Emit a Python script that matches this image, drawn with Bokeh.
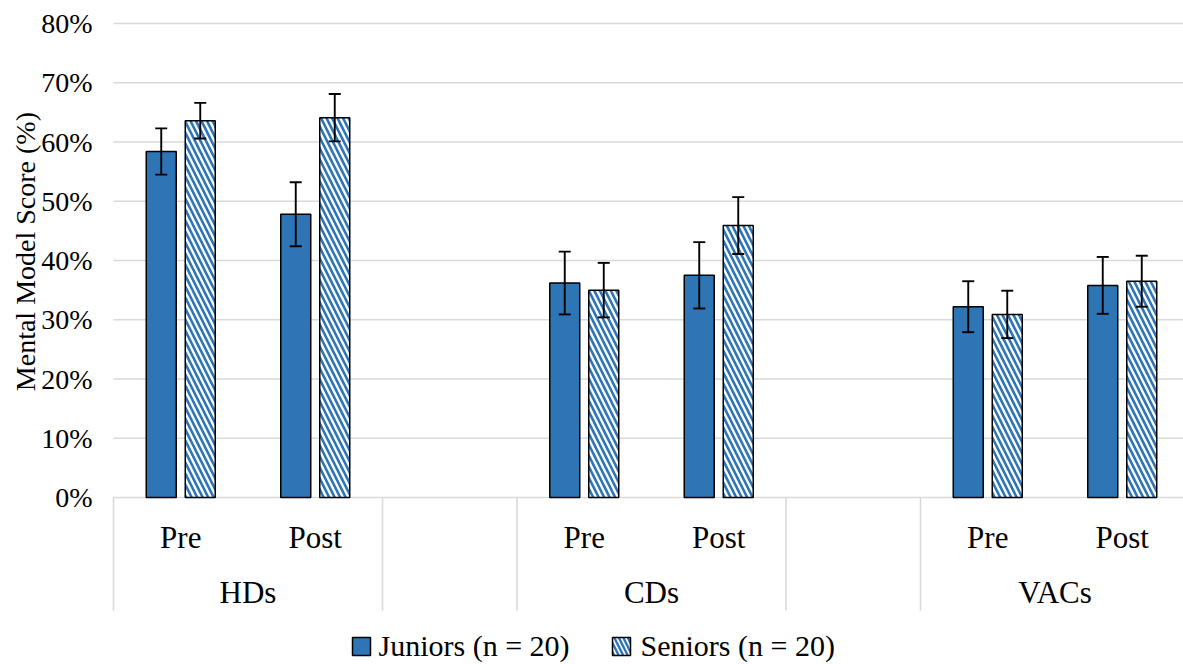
import numpy as np
from bokeh.plotting import figure
from bokeh.models import ColumnDataSource, Whisker, TeeHead, Range1d
from bokeh.core.properties import value
from bokeh.embed import file_html
from bokeh.resources import INLINE

# ---------------- data ----------------
groups = ["HDs", "CDs", "VACs"]
phases = ["Pre", "Post"]
series_names = ["Juniors (n = 20)", "Seniors (n = 20)"]
juniors = [58.4, 47.8, 36.2, 37.5, 32.2, 35.8]
juniors_err = [3.9, 5.4, 5.3, 5.6, 4.3, 4.8]
seniors = [63.6, 64.1, 35.0, 45.9, 30.9, 36.5]
seniors_err = [3.0, 4.0, 4.6, 4.8, 4.0, 4.3]
y_ticks = [0, 10, 20, 30, 40, 50, 60, 70, 80]
y_title = "Mental Model Score (%)"

# ---------------- styling / layout ----------------
BLUE = "#2E75B6"
GRID = "#D9D9D9"
FONT = value("Liberation Serif")
W, H = 1183, 664
PX = 474 / 0.8            # pixels per y unit (fraction)
SLOT = 134.5              # pixels per category slot
ORIGIN_X, ORIGIN_Y = 113, 497   # where (0, 0) sits on the canvas

x_start = -ORIGIN_X / SLOT
x_end = (W - ORIGIN_X) / SLOT
y_top = ORIGIN_Y / PX
y_bot = y_top - H / PX

def px_x(v):   # canvas pixel -> data x
    return (v - ORIGIN_X) / SLOT

def px_y(v):   # canvas pixel -> data y
    return (ORIGIN_Y - v) / PX

# slot layout: each group has 2 slots (Pre, Post) then an empty slot
centers, phase_lbl, group_centers, seps = [], [], [], set()
for gi, g in enumerate(groups):
    start = gi * 3
    for pi, ph in enumerate(phases):
        centers.append(start + pi + 0.5)
        phase_lbl.append(ph)
    group_centers.append(start + len(phases) / 2)
    seps.add(start)
    seps.add(start + len(phases))
    if gi < len(groups) - 1:
        seps.add(start + len(phases) + 1)
seps = sorted(seps)

off = 0.145
bw = 0.223
centers = np.array(centers)

src_j = ColumnDataSource(dict(
    x=centers - off,
    top=np.array(juniors) / 100,
    upper=(np.array(juniors) + np.array(juniors_err)) / 100,
    lower=(np.array(juniors) - np.array(juniors_err)) / 100,
))
src_s = ColumnDataSource(dict(
    x=centers + off,
    top=np.array(seniors) / 100,
    upper=(np.array(seniors) + np.array(seniors_err)) / 100,
    lower=(np.array(seniors) - np.array(seniors_err)) / 100,
))

p = figure(width=W, height=H, output_backend="svg", toolbar_location=None,
           x_range=Range1d(x_start, x_end), y_range=Range1d(y_bot, y_top),
           x_axis_location=None, y_axis_location=None, min_border=0,
           outline_line_color=None)
p.grid.visible = False

tick_vals = [t / 100 for t in y_ticks]

# horizontal gridlines (value axis)
p.segment(x0=[0] * len(tick_vals), x1=[x_end + 1] * len(tick_vals),
          y0=tick_vals, y1=tick_vals, line_color=GRID, line_width=1.6)

# value-axis tick labels
p.text(x=[px_x(ORIGIN_X - 21)] * len(tick_vals), y=tick_vals,
       text=[f"{t}%" for t in y_ticks], text_font=FONT,
       text_font_size=value("28px"), text_color="black",
       text_align="right", text_baseline="middle")

# value-axis title
p.text(x=[px_x(25)], y=[0.415], text=[y_title], angle=np.pi / 2,
       text_font=FONT, text_font_size=value("28px"), text_color="black",
       text_align="center", text_baseline="middle")

# separators of the category axis
p.segment(x0=seps, y0=[0] * len(seps), x1=seps, y1=[px_y(610)] * len(seps),
          line_color=GRID, line_width=1.6)

r_j = p.vbar(x="x", top="top", bottom=0, width=bw, source=src_j,
             fill_color=BLUE, line_color="black", line_width=1.5)
r_s = p.vbar(x="x", top="top", bottom=0, width=bw, source=src_s,
             fill_color="white", line_color="black", line_width=1.5,
             hatch_pattern="left_diagonal_line", hatch_color=BLUE,
             hatch_scale=11, hatch_weight=2.6)

for src in (src_j, src_s):
    p.add_layout(Whisker(source=src, base="x", upper="upper", lower="lower",
                         dimension="height", line_color="black", line_width=1.9,
                         level="overlay",
                         upper_head=TeeHead(size=12, line_width=1.9, line_color="black"),
                         lower_head=TeeHead(size=12, line_width=1.9, line_color="black")))

# category labels
p.text(x=list(centers), y=[px_y(537)] * len(centers), text=phase_lbl,
       text_font=FONT, text_font_size=value("31px"), text_color="black",
       text_align="center", text_baseline="middle")
p.text(x=group_centers, y=[px_y(592)] * len(group_centers), text=groups,
       text_font=FONT, text_font_size=value("31px"), text_color="black",
       text_align="center", text_baseline="middle")

# legend
leg_y = px_y(646)
sq_x = [px_x(361), px_x(621)]
p.rect(x=[sq_x[0]], y=[leg_y], width=18, height=18, width_units="screen",
       height_units="screen", fill_color=BLUE, line_color="black", line_width=1.5)
p.rect(x=[sq_x[1]], y=[leg_y], width=18, height=18, width_units="screen",
       height_units="screen", fill_color="white", line_color="black", line_width=1.5,
       hatch_pattern="left_diagonal_line", hatch_color=BLUE,
       hatch_scale=9, hatch_weight=2.4)
p.text(x=[px_x(378), px_x(640)], y=[px_y(645)] * 2, text=series_names,
       text_font=FONT, text_font_size=value("30px"), text_color="black",
       text_align="left", text_baseline="middle")

open("out.html", "w").write(file_html(p, INLINE))
